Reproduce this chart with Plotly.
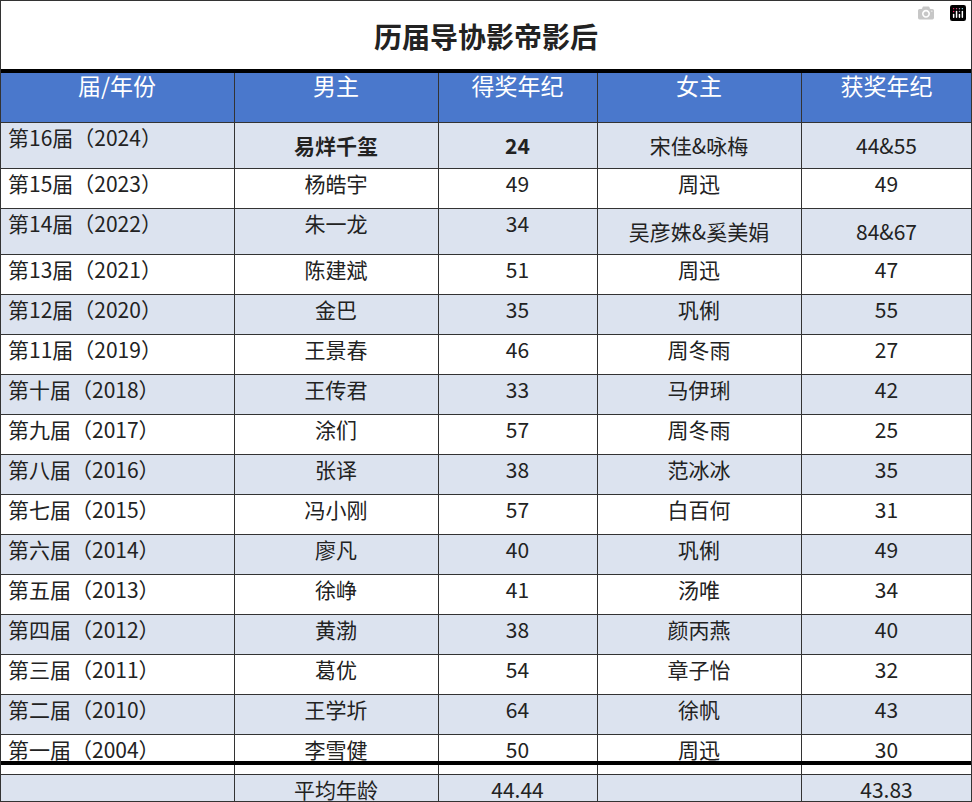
import plotly.graph_objects as go

editions = ["第16届（2024）", "第15届（2023）", "第14届（2022）", "第13届（2021）", "第12届（2020）",
            "第11届（2019）", "第十届（2018）", "第九届（2017）", "第八届（2016）", "第七届（2015）",
            "第六届（2014）", "第五届（2013）", "第四届（2012）", "第三届（2011）", "第二届（2010）",
            "第一届（2004）"]
actors = ["易烊千玺", "杨皓宇", "朱一龙", "陈建斌", "金巴", "王景春", "王传君", "涂们", "张译",
          "冯小刚", "廖凡", "徐峥", "黄渤", "葛优", "王学圻", "李雪健"]
actor_ages = ["24", "49", "34", "51", "35", "46", "33", "57", "38", "57", "40", "41", "38", "54", "64", "50"]
actresses = ["宋佳&咏梅", "周迅", "吴彦姝&奚美娟", "周迅", "巩俐", "周冬雨", "马伊琍", "周冬雨", "范冰冰",
             "白百何", "巩俐", "汤唯", "颜丙燕", "章子怡", "徐帆", "周迅"]
actress_ages = ["44&55", "49", "84&67", "47", "55", "27", "42", "25", "35", "31", "49", "34", "40",
                "32", "43", "30"]
headers = ["届/年份", "男主", "得奖年纪", "女主", "获奖年纪"]
avg_label = "平均年龄"
avg_male = "44.44"
avg_female = "43.83"

bold = lambda s: "<b>%s</b>" % s
col_actor = [bold(actors[0])] + actors[1:] + [avg_label]
col_aage = [bold(actor_ages[0])] + actor_ages[1:] + [avg_male]
cols = [editions + [""], col_actor, col_aage, actresses + [""], actress_ages + [avg_female]]

n = len(editions) + 1
fills = ["#dce3ef" if i % 2 == 0 else "white" for i in range(n)]
fills[-1] = "#dce3ef"

fig = go.Figure(go.Table(
    columnwidth=[234, 204, 159, 204, 171],
    header=dict(values=headers, fill_color="#4a78cc", line_color="#333", align="center",
                font=dict(family="Noto Sans CJK SC", size=23, color="white"), height=52),
    cells=dict(values=cols, fill_color=[fills] * 5, line_color="#333",
               align=["left", "center", "center", "center", "center"],
               font=dict(family="Noto Sans CJK SC", size=21, color="#222"), height=40),
    domain=dict(x=[0, 1], y=[0, 732 / 802]),
))

fig.add_annotation(text="<b>历届导协影帝影后</b>", x=0.5, y=1 - 36 / 802, xref="paper", yref="paper",
                   xanchor="center", yanchor="middle", showarrow=False,
                   font=dict(family="Noto Sans CJK SC", size=28, color="#222"))
fig.add_shape(type="line", x0=0, x1=1, y0=1 - 71 / 802, y1=1 - 71 / 802, xref="paper", yref="paper",
              line=dict(color="black", width=4))
fig.add_shape(type="line", x0=0, x1=1, y0=39 / 802, y1=39 / 802, xref="paper", yref="paper",
              line=dict(color="black", width=4))
fig.add_shape(type="rect", x0=0, x1=1, y0=0, y1=1, xref="paper", yref="paper",
              line=dict(color="#333", width=2))

fig.update_layout(width=972, height=802, margin=dict(l=0, r=0, t=0, b=0),
                  paper_bgcolor="white")
fig.write_html("out.html", post_script="document.body.style.margin='0';")
